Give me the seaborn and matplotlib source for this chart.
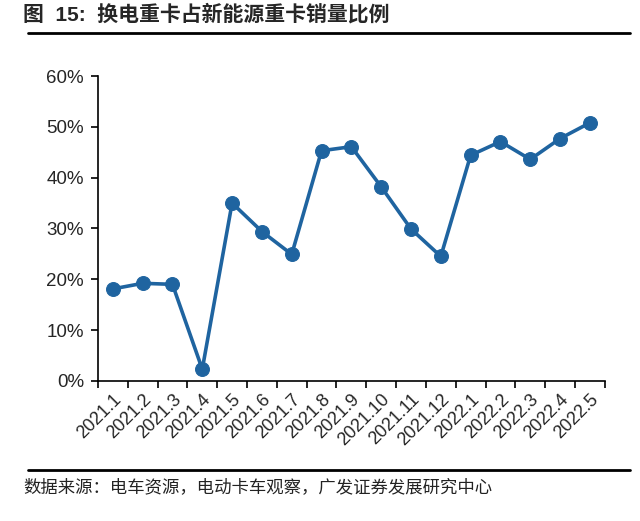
import pandas as pd
import matplotlib.pyplot as plt
import seaborn as sns

# Data
months = ["2021.1", "2021.2", "2021.3", "2021.4", "2021.5", "2021.6", "2021.7",
          "2021.8", "2021.9", "2021.10", "2021.11", "2021.12", "2022.1",
          "2022.2", "2022.3", "2022.4", "2022.5"]
share = [18.1, 19.2, 19.0, 2.3, 35.0, 29.4, 24.9, 45.3, 46.1, 38.2, 29.9,
         24.5, 44.4, 47.1, 43.6, 47.7, 50.8]
yticks = [0, 10, 20, 30, 40, 50, 60]

df = pd.DataFrame({"idx": range(len(months)), "share": share})

sns.set_style("white")
plt.rcParams["font.family"] = ["Liberation Sans", "Noto Sans CJK SC", "DejaVu Sans"]

blue = "#1f64a0"
fig = plt.figure(figsize=(6.4, 5.21), dpi=100)
ax = fig.add_axes([0.153, 0.269, 0.792, 0.585])

sns.lineplot(data=df, x="idx", y="share", ax=ax, color=blue, linewidth=2.6,
             marker="o", markersize=10, markeredgecolor=blue)

ax.set_xlim(-0.5, len(months) - 0.5)
ax.set_ylim(0, 60)
ax.set_yticks(yticks)
ax.set_yticklabels([f"{v}%" for v in yticks], fontsize=13.5)
ax.set_xticks(range(len(months)))
ax.set_xticklabels(months, rotation=45, ha="right", rotation_mode="anchor",
                   fontsize=13)
ax.set_xticks([i - 0.5 for i in range(len(months) + 1)], minor=True)
ax.tick_params(axis="x", which="major", length=0, pad=7)
ax.tick_params(axis="x", which="minor", length=5, width=1.2, color="black",
               direction="out", bottom=True)
ax.tick_params(axis="y", length=5, width=1.2, color="black", direction="out",
               left=True, pad=5)
ax.set_xlabel("")
ax.set_ylabel("")
for s in ["top", "right"]:
    ax.spines[s].set_visible(False)
for s in ["left", "bottom"]:
    ax.spines[s].set_color("black")
    ax.spines[s].set_linewidth(1.2)

# Title, rules and source
fig.text(0.036, 0.972, "图  15:  换电重卡占新能源重卡销量比例", fontsize=15,
         fontweight="bold", va="center", ha="left",
         family=["Liberation Sans", "Noto Sans CJK SC"])
fig.add_artist(plt.Line2D([0.044, 0.984], [1 - 33 / 521] * 2, color="black",
                          linewidth=2))
fig.add_artist(plt.Line2D([0.044, 0.984], [1 - 470 / 521] * 2, color="black",
                          linewidth=2))
fig.text(0.036, 1 - 487 / 521, "数据来源：电车资源，电动卡车观察，广发证券发展研究中心",
         fontsize=12.5, va="center", ha="left", color="#222222",
         family=["Noto Sans CJK SC"])

plt.savefig("out.png", dpi=100)
